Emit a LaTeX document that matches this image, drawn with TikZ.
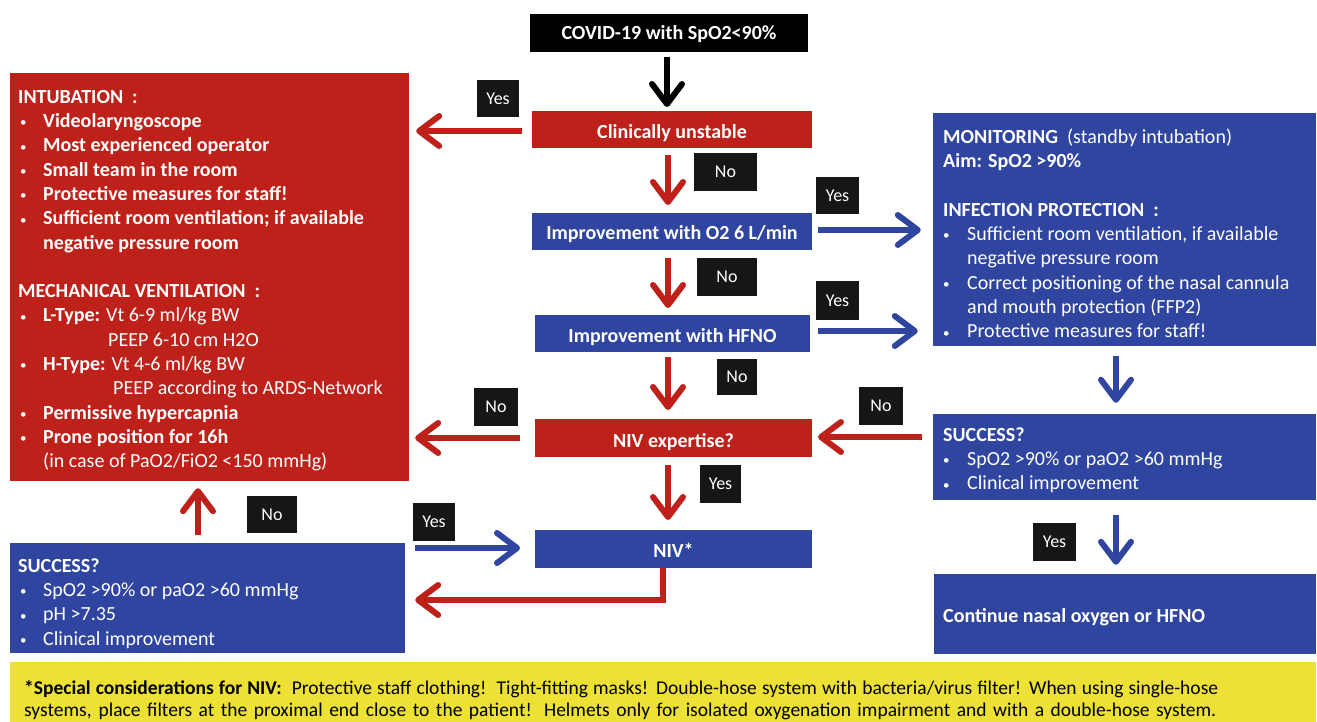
\documentclass[tikz,border=0pt]{standalone}
\usepackage{fontspec}
\setmainfont{Carlito}
\usetikzlibrary{arrows.meta,calc}
\definecolor{cred}{RGB}{190,33,26}
\definecolor{cblue}{RGB}{48,69,160}
\definecolor{cyel}{RGB}{236,225,52}
\definecolor{clab}{RGB}{22,22,22}
\newcommand\smbul{{\fontsize{13}{13}\selectfont\raisebox{0.6pt}{\textbullet}}}
\newcommand\bl{\makebox[25pt][l]{\hspace*{2pt}\smbul}}
\newcommand\br{\makebox[24pt][l]{\smbul}}
\newcommand\fst{\rule{0pt}{16pt}}
\begin{document}
\begin{tikzpicture}[x=1pt,y=-1pt,
  box/.style={inner sep=0pt, outer sep=0pt, text=white, font=\fontsize{20}{22}\selectfont\bfseries},
  redbox/.style={box, fill=cred, text height=19pt, text depth=1pt},
  bluebox/.style={box, fill=cblue, text height=18pt, text depth=1pt},
  panel/.style={box, text height=, text depth=},
  lab/.style={fill=clab, text=white, inner sep=0pt, font=\fontsize{18}{18}\selectfont},
  txt/.style={anchor=north west, inner sep=0pt, align=left, text=white, font=\fontsize{20}{24.3}\selectfont},
  arr/.style={line width=6pt, -{Straight Barb[length=20pt,width=30pt,round]}}
]
\useasboundingbox (0,0) rectangle (1317,722);

% main flow boxes
\node[box, fill=black, minimum width=278pt, minimum height=38pt, text height=15pt, text depth=2pt] (covid) at (669,33) {COVID-19 with SpO2<90\%};
\node[redbox, minimum width=280pt, minimum height=37pt] (cu) at (672,129.5) {Clinically unstable};
\node[bluebox, minimum width=280pt, minimum height=37pt] (o2) at (672,231.5) {Improvement with O2 6 L/min};
\node[bluebox, minimum width=275pt, minimum height=37pt] (hfno) at (672.5,333.5) {Improvement with HFNO};
\node[redbox, minimum width=277pt, minimum height=38pt] (nivexp) at (673.5,438) {NIV expertise?};
\node[bluebox, minimum width=277pt, minimum height=38pt] (niv) at (673.5,549) {NIV*};

% side boxes
\node[fill=cred, inner sep=0pt, minimum width=399pt, minimum height=408pt] (intub) at (209.5,277) {};
\node[txt] (intubtxt) at (18,87) {\fst\textbf{INTUBATION\ \ :}\\
\bl\textbf{Videolaryngoscope}\\
\bl\textbf{Most experienced operator}\\
\bl\textbf{Small team in the room}\\
\bl\textbf{Protective measures for staff!}\\
\bl\textbf{Sufficient room ventilation; if available}\\
\hspace*{25pt}\textbf{negative pressure room}\\[24.3pt]
\textbf{MECHANICAL VENTILATION\ \ :}\\
\bl\textbf{L-Type:} Vt 6-9 ml/kg BW\\
\hspace*{90pt}PEEP 6-10 cm H2O\\
\bl\textbf{H-Type:} Vt 4-6 ml/kg BW\\
\hspace*{95pt}PEEP according to ARDS-Network\\
\bl\textbf{Permissive hypercapnia}\\
\bl\textbf{Prone position for 16h}\\
\hspace*{25pt}(in case of PaO2/FiO2 <150 mmHg)};

\node[fill=cblue, inner sep=0pt, minimum width=395pt, minimum height=110pt] (lsucc) at (207.5,598) {};
\node[txt] (lsucctxt) at (18,556) {\fst\textbf{SUCCESS?}\\
\bl SpO2 >90\% or paO2 >60 mmHg\\
\bl pH >7.35\\
\bl Clinical improvement};

\node[fill=cblue, inner sep=0pt, minimum width=383pt, minimum height=233pt] (mon) at (1124.5,229.5) {};
\node[txt] (montxt) at (943,127) {\fst\textbf{MONITORING}\ \ (standby intubation)\\
\textbf{Aim: SpO2 >90\%}\\[24.3pt]
\textbf{INFECTION PROTECTION\ \ :}\\
\br Sufficient room ventilation, if available\\
\hspace*{24pt}negative pressure room\\
\br Correct positioning of the nasal cannula\\
\hspace*{24pt}and mouth protection (FFP2)\\
\br Protective measures for staff!};

\node[fill=cblue, inner sep=0pt, minimum width=383pt, minimum height=86pt] (rsucc) at (1124.5,457) {};
\node[txt] (rsucctxt) at (943,425) {\fst\textbf{SUCCESS?}\\
\br SpO2 >90\% or paO2 >60 mmHg\\
\br Clinical improvement};

\node[fill=cblue, inner sep=0pt, minimum width=382pt, minimum height=80pt] (cont) at (1125,614) {};
\node[anchor=base west, inner sep=0pt, text=white, font=\fontsize{20}{24}\selectfont\bfseries] (conttxt) at (943,622) {Continue nasal oxygen or HFNO};

% footnote
\node[fill=cyel, inner sep=0pt, minimum width=1306pt, minimum height=60pt] (foot) at (663,692) {};
\node[anchor=north west, inner sep=0pt, align=left, font=\fontsize{19.5}{22}\selectfont] (foottxt) at (24,680) {\makebox[1194pt][s]{\rule{0pt}{14pt}\textbf{*Special considerations for NIV:}\ \ Protective staff clothing!\ \ Tight-fitting masks! Double-hose system with bacteria/virus filter! When using single-hose}\\
\makebox[1192pt][s]{systems, place filters at the proximal end close to the patient! Helmets only for isolated oxygenation impairment and with a double-hose system.}};

% labels
\node[lab, minimum width=42pt, minimum height=37pt] (yes1) at (498,98.5) {Yes};
\node[lab, minimum width=63pt, minimum height=38pt] (no1) at (725.5,172) {No};
\node[lab, minimum width=43pt, minimum height=37pt] (yes2) at (837.5,195.5) {Yes};
\node[lab, minimum width=60pt, minimum height=38pt] (no2) at (727,277) {No};
\node[lab, minimum width=43pt, minimum height=39pt] (yes3) at (837.5,300.5) {Yes};
\node[lab, minimum width=40pt, minimum height=36pt] (no3) at (737,377) {No};
\node[lab, minimum width=44pt, minimum height=38pt] (no4) at (496,407) {No};
\node[lab, minimum width=44pt, minimum height=38pt] (no5) at (881,406) {No};
\node[lab, minimum width=41pt, minimum height=38pt] (yes4) at (720.5,484) {Yes};
\node[lab, minimum width=42pt, minimum height=38pt] (yes5) at (434,522) {Yes};
\node[lab, minimum width=50pt, minimum height=37pt] (no6) at (272,514.5) {No};
\node[lab, minimum width=43pt, minimum height=38pt] (yes6) at (1054.5,542) {Yes};

% connectors
\draw[arr, black, shorten <=5pt, shorten >=4pt] ([xshift=-2pt]covid.south) -- ([xshift=-2pt]covid.south |- cu.north);
\draw[arr, cred, shorten <=7pt, shorten >=8pt] ([xshift=-4pt]cu.south) -- ([xshift=-4pt]cu.south |- o2.north);
\draw[arr, cred, shorten <=8pt, shorten >=7pt] ([xshift=-4pt]o2.south) -- ([xshift=-4pt]o2.south |- hfno.north);
\draw[arr, cred, shorten <=5pt, shorten >=9pt] ([xshift=-4.5pt]hfno.south) -- ([xshift=-4.5pt]hfno.south |- nivexp.north);
\draw[arr, cred, shorten <=8pt, shorten >=10pt] ([xshift=-5.5pt]nivexp.south) -- ([xshift=-5.5pt]nivexp.south |- niv.north);

\draw[arr, cred, shorten <=10pt, shorten >=7pt] ([yshift=-1.5pt]cu.west) -- ([yshift=-1.5pt]cu.west -| intub.east);
\draw[arr, cred, shorten <=15pt, shorten >=6pt] (nivexp.west) -- (nivexp.west -| intub.east);
\draw[arr, cred, shorten <=11pt, shorten >=6pt] ([yshift=1pt]nivexp.east -| rsucc.west) -- ([yshift=1pt]nivexp.east);

\draw[arr, cblue, shorten <=6pt, shorten >=12pt] ([yshift=1.5pt]o2.east) -- ([yshift=1.5pt]o2.east -| mon.west);
\draw[arr, cblue, shorten <=8pt, shorten >=15pt] ([yshift=2.5pt]hfno.east) -- ([yshift=2.5pt]hfno.east -| mon.west);
\draw[arr, cblue, shorten <=10pt, shorten >=11pt] ([xshift=-8.5pt]mon.south) -- ([xshift=-8.5pt]mon.south |- rsucc.north);
\draw[arr, cblue, shorten <=15pt, shorten >=9pt] ([xshift=-8.5pt]rsucc.south) -- ([xshift=-8.5pt]rsucc.south |- cont.north);

\draw[arr, cblue, shorten <=10pt, shorten >=15pt] ([yshift=1pt]niv.west -| lsucc.east) -- ([yshift=1pt]niv.west);
\draw[arr, cred, shorten >=10pt] ([xshift=-10.5pt]niv.south) |- ([yshift=-2pt]lsucc.east);
\draw[arr, cred, shorten <=8pt, shorten >=7pt] ([xshift=-9.5pt]lsucc.north) -- ([xshift=-9.5pt]lsucc.north |- intub.south);
\end{tikzpicture}
\end{document}
